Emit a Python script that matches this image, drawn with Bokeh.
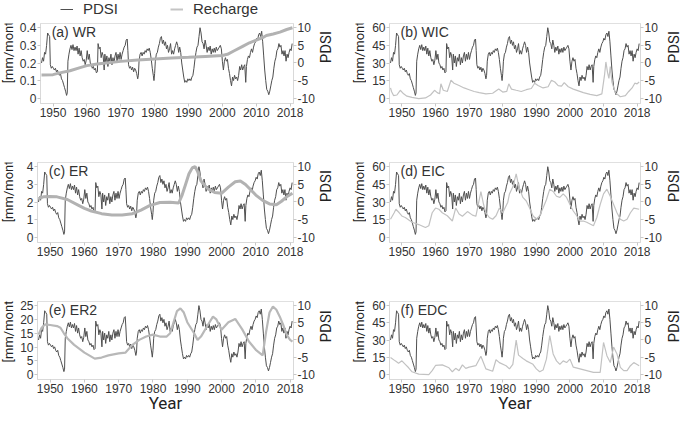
import math
from bokeh.plotting import figure
from bokeh.models import Range1d, LinearAxis, FixedTicker, Label, Legend, LegendItem
from bokeh.layouts import row, column
from bokeh.embed import file_html
from bokeh.resources import INLINE

# ---------------- data ----------------
pdsi_year = [1946.6, 1946.9, 1947.2, 1947.5, 1947.8, 1948.1, 1948.4, 1948.7, 1949.0, 1949.2,
             1949.5, 1949.8, 1950.1, 1950.4, 1950.7, 1951.0, 1951.3, 1951.6, 1951.9, 1952.2,
             1952.5, 1952.8, 1953.1, 1953.4, 1953.7, 1954.0, 1954.2, 1954.4, 1954.7, 1955.0,
             1955.3, 1955.6, 1955.9, 1956.2, 1956.5, 1956.8, 1957.1, 1957.4, 1957.7, 1958.0,
             1958.3, 1958.6, 1958.9, 1959.2, 1959.5, 1959.8, 1960.1, 1960.4, 1960.7, 1961.0,
             1961.3, 1961.6, 1961.9, 1962.2, 1962.5, 1962.8, 1963.1, 1963.3, 1963.6, 1963.9,
             1964.2, 1964.5, 1964.8, 1965.1, 1965.3, 1965.6, 1965.9, 1966.2, 1966.5, 1966.8,
             1967.1, 1967.4, 1967.7, 1968.0, 1968.3, 1968.6, 1968.9, 1969.2, 1969.5, 1969.8,
             1970.1, 1970.4, 1970.7, 1971.0, 1971.3, 1971.6, 1971.9, 1972.1, 1972.3, 1972.6,
             1972.9, 1973.2, 1973.5, 1973.8, 1974.1, 1974.4, 1974.7, 1975.0, 1975.2, 1975.4,
             1975.7, 1976.0, 1976.3, 1976.6, 1976.9, 1977.2, 1977.5, 1977.8, 1978.1, 1978.4,
             1978.7, 1979.0, 1979.3, 1979.6, 1979.8, 1980.0, 1980.2, 1980.5, 1980.8, 1981.1,
             1981.4, 1981.7, 1982.0, 1982.3, 1982.6, 1982.9, 1983.2, 1983.5, 1983.8, 1984.1,
             1984.4, 1984.7, 1985.0, 1985.3, 1985.6, 1985.9, 1986.2, 1986.5, 1986.8, 1987.1,
             1987.4, 1987.7, 1988.0, 1988.3, 1988.6, 1988.9, 1989.2, 1989.5, 1989.8, 1990.1,
             1990.4, 1990.7, 1991.0, 1991.3, 1991.6, 1991.9, 1992.2, 1992.5, 1992.8, 1993.1,
             1993.4, 1993.7, 1994.0, 1994.3, 1994.6, 1994.9, 1995.2, 1995.5, 1995.8, 1996.1,
             1996.4, 1996.7, 1997.0, 1997.3, 1997.6, 1997.9, 1998.2, 1998.5, 1998.8, 1999.1,
             1999.4, 1999.7, 2000.0, 2000.3, 2000.6, 2000.9, 2001.2, 2001.5, 2001.8, 2002.1,
             2002.4, 2002.7, 2003.0, 2003.3, 2003.6, 2003.9, 2004.2, 2004.5, 2004.8, 2005.1,
             2005.4, 2005.7, 2006.0, 2006.3, 2006.6, 2006.9, 2007.1, 2007.4, 2007.7, 2008.0,
             2008.3, 2008.6, 2008.9, 2009.2, 2009.5, 2009.8, 2010.1, 2010.4, 2010.7, 2011.0,
             2011.3, 2011.6, 2011.9, 2012.2, 2012.5, 2012.8, 2013.1, 2013.4, 2013.7, 2014.0,
             2014.3, 2014.6, 2014.9, 2015.2, 2015.5, 2015.8, 2016.1, 2016.4, 2016.7, 2017.0,
             2017.3, 2017.6, 2017.9, 2018.2, 2018.5, 2018.8, 2019.1, 2019.4, 2019.7, 2020.0,
             2020.3, 2020.6]
pdsi = [0.0, 1.5, 0.5, 3.0, 2.5, 5.0, 8.5, 8.0, 7.5, -0.5,
        -1.5, -1.0, -1.5, -2.0, -1.5, -2.5, -2.0, -3.0, -3.5, -3.0,
        -4.5, -5.0, -6.0, -7.0, -8.0, -9.2, -8.5, 0.5, 2.5, 4.0,
        5.0, 3.8, 5.2, 3.5, 4.5, 3.5, 4.8, 2.5, 4.2, 2.0,
        3.5, 1.5, 0.5, 1.0, -0.5, 0.8, 3.5, 1.0, 2.5, 0.0,
        -0.5, -1.5, -1.0, -2.0, -1.5, -2.8, -2.5, 5.5, 4.0, 4.5,
        1.5, 3.0, 2.0, -2.0, 2.5, 0.0, 2.0, -1.0, 1.5, 0.5,
        2.5, -0.5, 1.5, 0.0, 2.0, 3.0, 0.5, 2.5, 1.0, 3.0,
        1.0, 2.5, 3.5, 4.5, 5.0, 6.5, 6.8, 3.5, -0.5, -1.5,
        -1.0, -2.0, -1.2, -2.5, -1.5, -2.0, -3.0, -4.5, -3.5, 0.5,
        2.5, 3.0, 2.0, 3.0, 2.5, 3.5, 3.0, 4.0, 3.5, 4.2,
        3.0, 1.0, -1.5, -3.5, -5.0, -3.0, 0.5, 2.5, 3.0, 4.5,
        5.5, 7.0, 7.5, 5.5, 6.5, 5.0, 6.0, 4.0, 5.0, 3.0,
        4.0, 5.5, 2.5, 3.5, 2.5, 4.0, 5.0, 6.0, 5.0, 3.0,
        4.5, 3.0, 0.0, -2.0, -4.0, -5.5, -5.0, -5.5, -4.5, -5.0,
        -4.5, -5.0, -4.0, -3.5, -1.5, 1.0, 3.0, 4.5, 5.0, 7.5,
        10.0, 8.5, 6.0, 5.5, 4.0, 6.5, 5.0, 3.0, 4.5, 3.5,
        4.8, 2.5, 4.0, 3.0, 4.2, 3.0, 4.5, 3.5, 4.0, 4.5,
        5.0, 4.0, 0.5, -2.0, 0.5, 1.5, 0.5, 1.0, -1.5, -3.0,
        -5.0, -6.5, -4.0, -5.0, -3.5, -4.5, -4.0, -5.0, -3.5, -1.0,
        -2.0, -0.5, -2.0, -1.0, -0.5, -5.5, -1.0, 1.0, 2.0, 1.5,
        3.0, 4.0, 3.0, 4.5, 5.5, 6.0, 7.0, 6.5, 8.0, 8.5,
        7.5, 9.0, 6.0, 2.0, -2.0, -5.0, -7.5, -8.0, -9.0, -8.0,
        -6.5, -5.0, -4.0, -1.5, 0.5, 1.5, 3.5, 4.0, 5.5, 4.5,
        5.0, 2.5, 3.5, 2.0, 3.5, 0.5, 2.5, 1.5, 3.0, 4.0,
        3.5, 5.5]

wr_year = [1946.6, 1950, 1952, 1955, 1958, 1960, 1963, 1965, 1970, 1975, 1980, 1985, 1990,
           1995, 2000, 2001.5, 2003.5, 2006, 2008, 2010, 2012, 2013, 2015, 2017, 2019, 2020.7]
wr = [0.133, 0.135, 0.145, 0.157, 0.175, 0.186, 0.195, 0.200, 0.210, 0.218, 0.224, 0.229, 0.233,
      0.238, 0.243, 0.250, 0.270, 0.295, 0.315, 0.330, 0.345, 0.356, 0.365, 0.375, 0.390, 0.400]

wic_year = [1946.6, 1946.9, 1947.5, 1948.5, 1949.5, 1950.5, 1951.5, 1953, 1955, 1957, 1958.5,
            1959.7, 1960.5, 1961.2, 1961.6, 1962.3, 1963.5, 1964.6, 1965.5, 1967, 1968.5, 1970,
            1971.5, 1973, 1975, 1977, 1978.8, 1980, 1981.2, 1981.8, 1982.6, 1984, 1985.5, 1987,
            1988.5, 1989.5, 1990.5, 1992, 1993.5, 1994.5, 1995.5, 1996.5, 1997.5, 1998.3, 1999.5,
            2001, 2002.5, 2004, 2006, 2008, 2009.5, 2010.3, 2010.7, 2011.2, 2011.6, 2012,
            2012.5, 2013.5, 2015, 2016.5, 2017.5, 2018.5, 2019.3, 2020, 2020.6]
wic = [9, 6, 2.5, 3, 7, 4, 2, 1, 0, 0.5, 3,
       7, 5, 4, 12.5, 7, 6, 15.5, 13, 11, 9, 7.5,
       6, 5, 4, 4.5, 8, 5.5, 6, 12.5, 8, 7, 6, 7.5,
       8.5, 13, 11, 9, 10, 15.5, 14, 11, 10.5, 13.5, 10,
       8, 6.5, 5, 3.5, 2.5, 4, 20, 31, 22, 17, 27,
       14, 5, 1.5, 2.5, 6, 9, 13, 12.5, 14]

er_year = [1946.6, 1948, 1950, 1952, 1955, 1958, 1960, 1962, 1965, 1968, 1971, 1974, 1976.5,
           1979, 1982, 1985, 1987.5, 1988.5, 1989.5, 1990.5, 1991.5, 1992.3, 1993, 1994, 1996,
           1998, 2000, 2002, 2004, 2005.5, 2007, 2008.5, 2010, 2012, 2014, 2016, 2017.5, 2019,
           2020.7]
er = [2.2, 2.3, 2.32, 2.3, 2.15, 1.85, 1.65, 1.5, 1.35, 1.27, 1.27, 1.35, 1.55,
      1.8, 1.98, 2.0, 1.95, 2.4, 3.0, 3.6, 3.95, 4.0, 3.75, 3.2, 2.75,
      2.55, 2.5, 2.85, 3.15, 3.2, 3.0, 2.7, 2.4, 2.1, 1.9, 1.85, 2.05, 2.3,
      2.5]

eic_year = [1946.6, 1947.7, 1948.2, 1949.2, 1950.1, 1951, 1953, 1955, 1957, 1958, 1959, 1960,
            1961, 1962, 1963.5, 1964.5, 1965, 1966, 1967, 1968, 1969.5, 1971, 1972, 1973.5,
            1974.3, 1975, 1976, 1977, 1978, 1979, 1980, 1981.5, 1982, 1983, 1984, 1984.8, 1986,
            1987, 1988, 1989, 1990, 1991, 1992, 1993, 1994, 1995, 1996, 1997, 1998, 1999, 2000,
            2001, 2002, 2003, 2004, 2005, 2006, 2007, 2008, 2009, 2010, 2011, 2012, 2013, 2014,
            2015, 2016, 2017, 2018, 2019, 2020.6]
eic = [15.5, 21, 24, 21, 18, 17, 13, 11, 8.5, 10, 21, 25,
       24, 21, 18.5, 15.5, 14, 25, 20, 18, 22, 19, 18, 39,
       28, 21, 17, 15.5, 18.5, 25, 21, 30, 37, 43, 54, 43, 34,
       31, 25, 18.5, 15.5, 18.5, 25, 32, 41, 39, 35, 34, 37, 34, 28,
       22.5, 18.5, 14, 14, 13, 11.5, 10, 17, 28, 37, 41, 35, 28, 21,
       15.5, 14, 15.5, 21, 25, 24]

er2_year = [1946.6, 1947.5, 1948.5, 1950, 1952, 1953, 1954, 1955, 1957, 1960, 1963, 1965, 1967,
            1970, 1972, 1974, 1976, 1978, 1980, 1982, 1984, 1985, 1986, 1987, 1988, 1989, 1990,
            1992, 1993, 1994, 1996, 1997.5, 1998.5, 2000, 2002, 2004, 2006, 2008, 2010, 2012,
            2013, 2014, 2015, 2016, 2017, 2018, 2019, 2020, 2020.7]
er2 = [14.5, 17, 18.2, 18, 17.6, 17, 15, 13.2, 10.8, 8, 5.8, 6.2, 7,
       7.7, 8, 10.8, 12.6, 13.8, 14.5, 13.8, 13.8, 15, 19, 23, 24, 22.5, 19,
       15, 12.6, 13.8, 18, 21, 20, 16.3, 19, 20.2, 16.5, 12, 9, 7,
       15.5, 22.5, 24.7, 23.5, 21, 18, 14.5, 12.6, 12]

edc_year = [1946.6, 1948, 1949, 1950, 1951, 1952, 1953, 1955, 1958, 1959, 1960, 1962, 1964,
            1965, 1966, 1967, 1968, 1969, 1970, 1972, 1973.5, 1975, 1977, 1978, 1979, 1981,
            1982, 1983, 1984, 1984.7, 1986, 1987, 1989, 1990, 1991, 1992, 1993, 1994, 1995,
            1996, 1997, 1998, 1999, 2000, 2001, 2003, 2005, 2007, 2009, 2010, 2011, 2012, 2013,
            2014, 2015, 2016, 2017, 2018, 2019, 2020.6]
edc = [15, 12, 10, 12, 9, 6, 2.5, 0.5, 0, 3.5, 8, 8.5, 6,
       2.5, 5.5, 3.5, 8.5, 5.5, 6.5, 7.8, 16, 5, 3, 13, 10.5, 7.8,
       5, 9, 30, 17, 14, 12, 9, 5, 2.5, 4, 13.5, 34, 18,
       12, 9, 12, 10.5, 13.5, 6.5, 5, 3.5, 2, 2, 28, 16.5, 10.5, 24,
       18, 6.3, 3.5, 3.5, 7.8, 10.5, 7.8]

year_ticks = [1950, 1960, 1970, 1980, 1990, 2000, 2010, 2020]
year_labels = ["1950", "1960", "1970", "1980", "1990", "2000", "2010", "2018"]
pdsi_ticks = [-10, -5, 0, 5, 10]
pdsi_labels = ["-10", "-5", "0", "5", "10"]
series_names = ["PDSI", "Recharge"]
y_title = "[mm/month]"
pdsi_title = "PDSI"
x_title = "Year"

panels = [
    dict(name="(a) WR", t=wr_year, v=wr, top=0.4, ticks=[0, 0.1, 0.2, 0.3, 0.4],
         labels=["0", "0.1", "0.2", "0.3", "0.4"], lw=3.0, col="#b2b2b2"),
    dict(name="(b) WIC", t=wic_year, v=wic, top=60, ticks=[0, 15, 30, 45, 60],
         labels=["0", "15", "30", "45", "60"], lw=1.2, col="#c2c2c2"),
    dict(name="(c) ER", t=er_year, v=er, top=4, ticks=[0, 1, 2, 3, 4],
         labels=["0", "1", "2", "3", "4"], lw=3.0, col="#b2b2b2"),
    dict(name="(d) EIC", t=eic_year, v=eic, top=60, ticks=[0, 15, 30, 45, 60],
         labels=["0", "15", "30", "45", "60"], lw=1.2, col="#c2c2c2"),
    dict(name="(e) ER2", t=er2_year, v=er2, top=25, ticks=[0, 5, 10, 15, 20, 25],
         labels=["0", "5", "10", "15", "20", "25"], lw=2.2, col="#b8b8b8"),
    dict(name="(f) EDC", t=edc_year, v=edc, top=60, ticks=[0, 15, 30, 45, 60],
         labels=["0", "15", "30", "45", "60"], lw=1.2, col="#c2c2c2"),
]

X0, X1 = 1946.3, 2021.0
TICK_FONT = "Liberation Sans"
LABEL_FONT = "Roboto"
TXT = "#333333"
LIGHT = "#d9d9d9"
PDSI_COL = "#4f4f4f"


def style_axis(ax):
    ax.axis_line_color = LIGHT
    ax.major_tick_line_color = "#c8c8c8"
    ax.major_tick_in = 0
    ax.major_tick_out = 3
    ax.minor_tick_line_color = None
    ax.major_label_text_font = TICK_FONT
    ax.major_label_text_font_size = "12px"
    ax.major_label_text_color = TXT
    ax.major_label_standoff = 1


def make_panel(spec, width, height, bl, br, bt, bb, xlabel=False):
    top = spec["top"]
    lo, hi = -0.07 * top, 1.06 * top
    p = figure(width=width, height=height, x_range=Range1d(X0, X1), y_range=Range1d(lo, hi),
               output_backend="svg", toolbar_location=None,
               min_border_left=bl, min_border_right=br, min_border_top=bt, min_border_bottom=bb)
    p.extra_y_ranges = {"pdsi": Range1d(-11.5, 11.2)}
    p.grid.visible = False
    p.outline_line_color = "#e0e0e0"

    p.line(pdsi_year, pdsi, y_range_name="pdsi", line_color=PDSI_COL, line_width=1)
    p.line(spec["t"], spec["v"], line_color=spec["col"], line_width=spec["lw"])

    xa = p.xaxis[0]
    xa.ticker = FixedTicker(ticks=year_ticks)
    xa.major_label_overrides = {t: s for t, s in zip(year_ticks, year_labels)}
    style_axis(xa)
    if xlabel:
        xa.axis_label = x_title
        xa.axis_label_text_font = LABEL_FONT
        xa.axis_label_text_font_style = "normal"
        xa.axis_label_text_font_size = "17px"
        xa.axis_label_text_color = "#222222"
        xa.axis_label_standoff = -3

    ya = p.yaxis[0]
    ya.ticker = FixedTicker(ticks=spec["ticks"])
    ya.major_label_overrides = {t: s for t, s in zip(spec["ticks"], spec["labels"])}
    style_axis(ya)

    ra = LinearAxis(y_range_name="pdsi", ticker=FixedTicker(ticks=pdsi_ticks))
    ra.major_label_overrides = {t: s for t, s in zip(pdsi_ticks, pdsi_labels)}
    style_axis(ra)
    p.add_layout(ra, "right")

    p.add_layout(Label(x=1949.6, y=hi, text=spec["name"], text_baseline="top",
                       text_font=TICK_FONT, text_font_size="14px", text_color=TXT))
    return p


def strip(width, height, texts):
    """Blank figure holding rotated axis titles as text."""
    g = figure(width=width, height=height, x_range=Range1d(0, width), y_range=Range1d(0, height),
               output_backend="svg", toolbar_location=None, title=None,
               x_axis_location=None, y_axis_location=None,
               min_border_left=0, min_border_right=0, min_border_top=0, min_border_bottom=0)
    g.grid.visible = False
    g.outline_line_color = None
    for (x, y, text, size, angle, base) in texts:
        g.add_layout(Label(x=x, y=y, text=text, angle=angle, text_align="center",
                           text_baseline=base, text_font=LABEL_FONT,
                           text_font_size=size, text_color="#222222"))
    return g


# legend strip above the panels (its lines lie outside the strip's visible range)
leg = figure(width=350, height=17, x_range=Range1d(0, 1), y_range=Range1d(0, 1),
             output_backend="svg", toolbar_location=None,
             x_axis_location=None, y_axis_location=None,
             min_border_left=0, min_border_right=0, min_border_top=0, min_border_bottom=0)
leg.grid.visible = False
leg.outline_line_color = None
lr1 = leg.line(pdsi_year, pdsi, line_color=PDSI_COL, line_width=1)
lr2 = leg.line(wr_year, wr, line_color="#c4c4c4", line_width=2)
legend = Legend(items=[LegendItem(label=series_names[0], renderers=[lr1]),
                       LegendItem(label=series_names[1], renderers=[lr2])],
                orientation="horizontal", location=(60, 0),
                label_text_font=TICK_FONT, label_text_font_size="15px",
                label_text_color=TXT, glyph_width=13, glyph_height=12,
                label_height=12, label_standoff=10, spacing=52, padding=0, margin=0,
                border_line_color=None, background_fill_alpha=0)
leg.add_layout(legend, "center")

# widths: left gutter | panel | middle gutter | panel | right gutter
GL, PW1, GM, PW2, GR = 16, 301, 49, 298, 20
# (row height, top border, bottom border, x title?, y of rotated titles in the gutters)
rows_spec = [(139, 6, 53, False, 98), (139, 6, 53, False, 98), (123, 6, 39, True, 84)]
HALF = math.pi / 2
figs = [leg]
for i, (h, bt, bb, xl, yc) in enumerate(rows_spec):
    g_left = strip(GL, h, [(8, yc, y_title, "13px", HALF, "middle")])
    left = make_panel(panels[2 * i], PW1, h, 21, 22, bt, bb, xlabel=xl)
    g_mid = strip(GM, h, [(8, yc, pdsi_title, "15px", HALF, "middle"),
                          (41.5, yc, y_title, "13px", HALF, "middle")])
    right = make_panel(panels[2 * i + 1], PW2, h, 23, 22, bt, bb, xlabel=xl)
    g_right = strip(GR, h, [(9, yc, pdsi_title, "15px", HALF, "middle")])
    figs.append(row(g_left, left, g_mid, right, g_right))

layout = column(*figs)
open("out.html", "w").write(file_html(layout, INLINE))
